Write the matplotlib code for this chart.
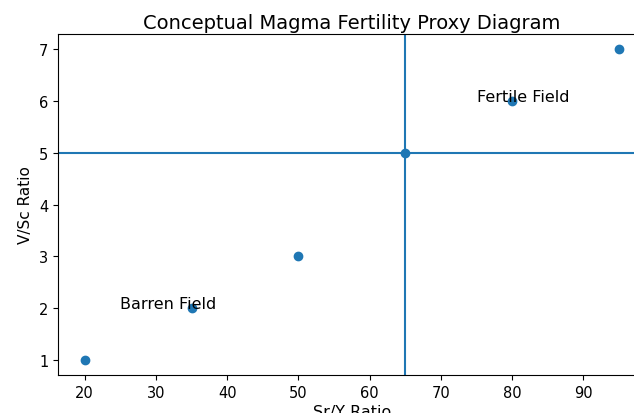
import matplotlib
matplotlib.use("Agg")
import matplotlib.pyplot as plt

# data
sr_y = [20, 35, 50, 65, 80, 95]
v_sc = [1, 2, 3, 5, 6, 7]
sr_y_cut = 65
v_sc_cut = 5
labels = ["Barren Field", "Fertile Field"]
label_pos = [(25, 2), (75, 6)]

fig = plt.figure(figsize=(6.34, 4.14), dpi=100)
ax = fig.add_axes([0.0915, 0.0906, 0.927, 0.826])

ax.scatter(sr_y, v_sc)
ax.axvline(sr_y_cut)
ax.axhline(v_sc_cut)
for txt, (x, y) in zip(labels, label_pos):
    ax.text(x, y, txt, fontsize=11.5)

ax.tick_params(labelsize=10.5)
ax.set_xlabel("Sr/Y Ratio", fontsize=11.5, labelpad=3)
ax.set_ylabel("V/Sc Ratio", fontsize=11)
ax.set_title("Conceptual Magma Fertility Proxy Diagram", fontsize=14, pad=4)

fig.savefig("out.png", dpi=100)
